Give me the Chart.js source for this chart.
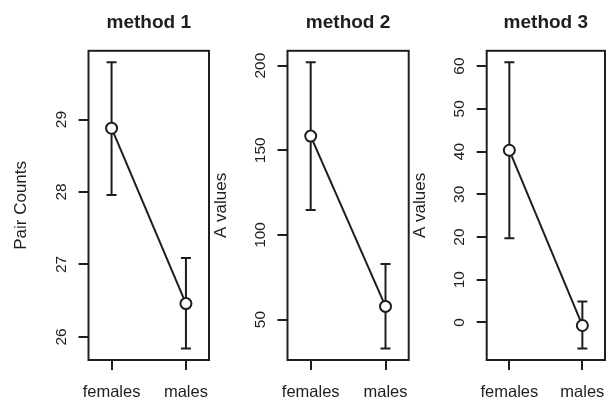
<!DOCTYPE html>
<html>
<head>
<meta charset="utf-8">
<script src="https://cdn.jsdelivr.net/npm/chart.js@4"></script>
<style>
  body { margin: 0; background: #fff; }
  #wrap { position: relative; width: 616px; height: 402px; }
  canvas { position: absolute; top: 0; }
</style>
</head>
<body>
<div id="wrap">
  <canvas id="c1" width="211" height="402" style="left:0px"></canvas>
  <canvas id="c2" width="199" height="402" style="left:211px"></canvas>
  <canvas id="c3" width="206" height="402" style="left:410px"></canvas>
</div>
<script>
// categories
var groups = ['females', 'males'];
var titles = ['method 1', 'method 2', 'method 3'];
var yTitles = ['Pair Counts', 'A values', 'A values'];

// method 1
var mean1 = [28.88, 26.46];
var lo1 = [27.96, 25.84];
var hi1 = [29.79, 27.09];
var ticks1 = [26, 27, 28, 29];

// method 2
var mean2 = [158.4, 57.8];
var lo2 = [114.7, 32.9];
var hi2 = [202, 82.8];
var ticks2 = [50, 100, 150, 200];

// method 3
var mean3 = [40.3, -0.7];
var lo3 = [19.7, -6.1];
var hi3 = [60.9, 4.9];
var ticks3 = [0, 10, 20, 30, 40, 50, 60];

var ink = '#1e1e1e';
var tickLen = 10;
var tickFont = '15.5px "Liberation Sans", Arial, sans-serif';

// box around the plot area, like R's box()
var frame = {
  id: 'frame',
  afterDatasetsDraw: function (chart) {
    var a = chart.chartArea, ctx = chart.ctx;
    ctx.save();
    ctx.strokeStyle = ink;
    ctx.lineWidth = 2;
    ctx.strokeRect(a.left, a.top, a.right - a.left, a.bottom - a.top);
    ctx.restore();
  }
};

function widest(labels) {
  var ctx = document.createElement('canvas').getContext('2d');
  ctx.font = tickFont;
  var w = 0;
  labels.forEach(function (l) { w = Math.max(w, ctx.measureText(String(l)).width); });
  return w;
}

function makePanel(id, n, mean, lo, hi, yTicks, yWidth, rightPad, titlePad) {
  var range = Math.max.apply(null, hi) - Math.min.apply(null, lo);
  var ymin = Math.min.apply(null, lo) - 0.04 * range;
  var ymax = Math.max.apply(null, hi) + 0.04 * range;

  var datasets = [{
    data: mean.map(function (v, i) { return { x: i + 1, y: v }; }),
    showLine: true,
    borderColor: ink,
    borderWidth: 2,
    pointRadius: 5.5,
    pointBorderWidth: 2,
    pointBackgroundColor: '#fff',
    pointBorderColor: ink
  }];
  groups.forEach(function (g, i) {
    datasets.push({
      data: [{ x: i + 1, y: lo[i] }, { x: i + 1, y: hi[i] }],
      showLine: true,
      borderColor: ink,
      borderWidth: 2,
      pointStyle: 'line',
      pointRadius: 5,
      pointBorderWidth: 2,
      pointBorderColor: ink
    });
  });

  var yPad = 27 - tickLen - widest(yTicks) / 2;

  return new Chart(document.getElementById(id), {
    type: 'scatter',
    data: { datasets: datasets },
    plugins: [frame],
    options: {
      responsive: false,
      animation: false,
      devicePixelRatio: 1,
      layout: { autoPadding: false, padding: { left: 0, right: rightPad, top: 0, bottom: 0 } },
      plugins: {
        legend: { display: false },
        tooltip: { enabled: false },
        title: {
          display: true,
          fullSize: false,
          text: titles[n],
          color: ink,
          font: { family: '"Liberation Sans", Arial, sans-serif', size: 19, weight: 'bold' },
          padding: { top: 11, bottom: 17 }
        }
      },
      scales: {
        x: {
          type: 'linear',
          min: 0.69,
          max: 2.31,
          afterBuildTicks: function (s) { s.ticks = groups.map(function (g, i) { return { value: i + 1 }; }); },
          afterFit: function (s) { s.height = 42; s.paddingLeft = 0; s.paddingRight = 0; },
          border: { display: false },
          grid: { drawOnChartArea: false, drawTicks: true, tickLength: tickLen, color: ink, lineWidth: 2 },
          ticks: {
            autoSkip: false,
            maxRotation: 0,
            padding: 12.4,
            color: ink,
            font: { family: '"Liberation Sans", Arial, sans-serif', size: 16.5 },
            callback: function (v) { return groups[v - 1]; }
          }
        },
        y: {
          min: ymin,
          max: ymax,
          afterBuildTicks: function (s) { s.ticks = yTicks.map(function (v) { return { value: v }; }); },
          afterFit: function (s) { s.width = yWidth; s.paddingTop = 0; s.paddingBottom = 0; },
          border: { display: false },
          grid: { drawOnChartArea: false, drawTicks: true, tickLength: tickLen, color: ink, lineWidth: 2 },
          title: {
            display: true,
            text: yTitles[n],
            color: ink,
            font: { family: '"Liberation Sans", Arial, sans-serif', size: 17 },
            padding: { top: titlePad, bottom: 0 }
          },
          ticks: {
            autoSkip: false,
            minRotation: 90,
            maxRotation: 90,
            crossAlign: 'center',
            padding: yPad,
            color: ink,
            font: { family: '"Liberation Sans", Arial, sans-serif', size: 15.5 }
          }
        }
      }
    }
  });
}

makePanel('c1', 0, mean1, lo1, hi1, ticks1, 88.5, 2, 11.5);
makePanel('c2', 1, mean2, lo2, hi2, ticks2, 76.5, 1.3, 0.5);
makePanel('c3', 2, mean3, lo3, hi3, ticks3, 76.7, 11, 0.5);
</script>
</body>
</html>
